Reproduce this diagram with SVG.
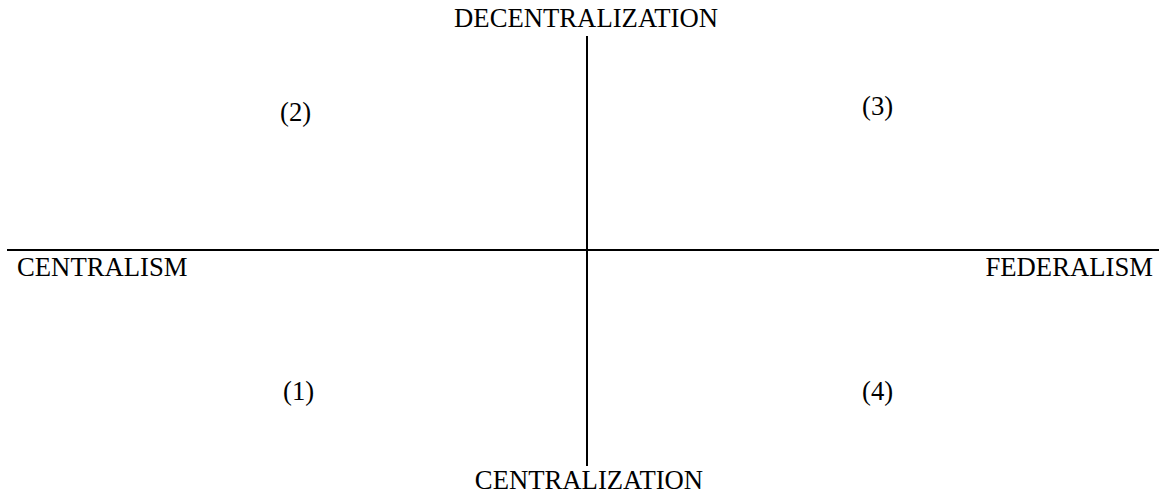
<svg xmlns="http://www.w3.org/2000/svg" width="1159" height="496" viewBox="0 0 1159 496">
<style>
text{font-family:"Liberation Serif","Times New Roman",serif;font-size:26.7px;fill:#000}
line{stroke:#000;stroke-width:2}
</style>
<rect width="1159" height="496" fill="#fff"/>
<g id="connectors">
<line x1="587" y1="36" x2="587" y2="466"/>
<line x1="7" y1="250" x2="1159" y2="250"/>
</g>
<g id="decentralization"><text x="586" y="27" text-anchor="middle">DECENTRALIZATION</text></g>
<g id="centralization"><text x="589" y="489" text-anchor="middle">CENTRALIZATION</text></g>
<g id="centralism"><text x="17" y="276">CENTRALISM</text></g>
<g id="federalism"><text x="1153" y="276" text-anchor="end">FEDERALISM</text></g>
<g id="q2"><text x="280" y="121">(2)</text></g>
<g id="q3"><text x="862" y="115">(3)</text></g>
<g id="q1"><text x="283" y="400">(1)</text></g>
<g id="q4"><text x="862" y="400">(4)</text></g>
</svg>
